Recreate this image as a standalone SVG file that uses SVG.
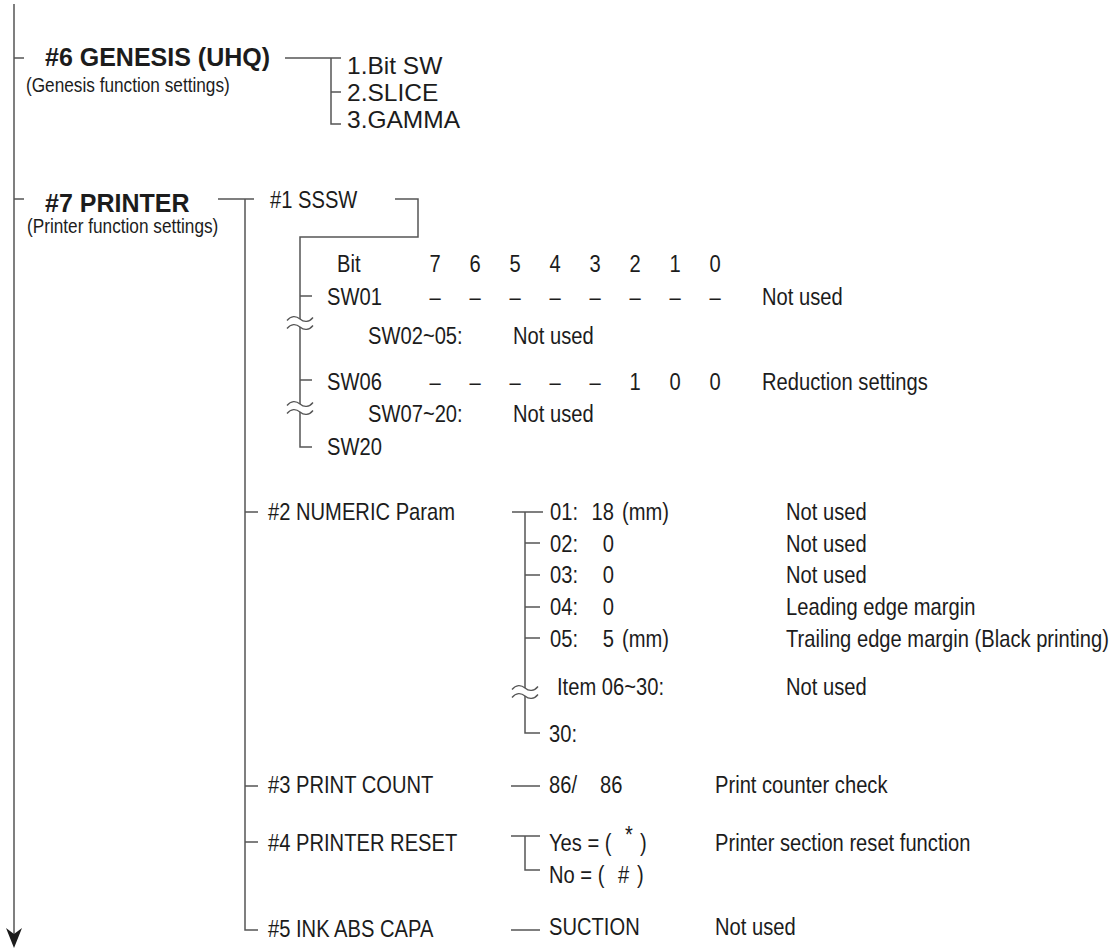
<svg xmlns="http://www.w3.org/2000/svg" width="1115" height="949" viewBox="0 0 1115 949">
<style>
text{font-family:"Liberation Sans",Arial,Helvetica,sans-serif;fill:#1c1c1c}
.t{font-size:24px}
.s{font-size:20.5px}
.b{font-size:25px;font-weight:bold}
.g{font-size:24.5px}
.m{text-anchor:middle}
.e{text-anchor:end}
.ln{stroke:#555;stroke-width:1.5;fill:none}
.wv{stroke:#555;stroke-width:1.3;fill:none}
</style>
<defs>
<path id="wave" d="M-13 1.5 C-9 -3.5 -4 -3.5 0 0 S9 3.5 13 -1.5"/>
</defs>
<rect width="1115" height="949" fill="#fff"/>
<g id="connectors">
<line class="ln" x1="14" y1="4" x2="14" y2="934"/>
<polygon points="6,928 14,934 22,928 14,948" fill="#1c1c1c"/>
<line class="ln" x1="14" y1="58" x2="24" y2="58"/>
<line class="ln" x1="14" y1="199" x2="24" y2="199"/>
<path class="ln" d="M285 58H341M331 58V124H341M331 92H341"/>
<path class="ln" d="M218 199H254M245 199V930H258M245 512H258M245 786H258M245 842H258"/>
<path class="ln" d="M395 199H418V237H300V319M300 327V404M300 412V447H312M300 296H312M300 380H312"/>
<g class="wv">
<use href="#wave" x="300" y="319"/>
<use href="#wave" x="300" y="327"/>
<use href="#wave" x="300" y="404"/>
<use href="#wave" x="300" y="412"/>
<use href="#wave" x="525" y="688"/>
<use href="#wave" x="525" y="696"/>
</g>
<path class="ln" d="M512 512H543M525 512V688M525 696V733H540M525 543H540M525 575H540M525 607H540M525 638H540"/>
<path class="ln" d="M511 786H540"/>
<path class="ln" d="M511 836H540M525 836V870H540"/>
<path class="ln" d="M511 930H540"/>
</g>
<g id="n-genesis">
<text class="b" x="45" y="66">#6 GENESIS (UHQ)</text>
<text class="s" transform="translate(26 92) scale(.84 1)">(Genesis function settings)</text>
</g>
<g id="n-bitsw"><text class="g" x="347" y="74">1.Bit SW</text></g>
<g id="n-slice"><text class="g" x="347" y="101">2.SLICE</text></g>
<g id="n-gamma"><text class="g" x="347" y="128">3.GAMMA</text></g>
<g id="n-printer">
<text class="b" x="45" y="212">#7 PRINTER</text>
<text class="s" transform="translate(27 233) scale(.84 1)">(Printer function settings)</text>
</g>
<g id="n-sssw"><text class="t" transform="translate(270 208) scale(.84 1)">#1 SSSW</text></g>
<g id="n-bitrow">
<text class="t" transform="translate(337 272) scale(.84 1)">Bit</text>
<text class="t m" transform="translate(435 272) scale(.84 1)">7</text>
<text class="t m" transform="translate(475 272) scale(.84 1)">6</text>
<text class="t m" transform="translate(515 272) scale(.84 1)">5</text>
<text class="t m" transform="translate(555 272) scale(.84 1)">4</text>
<text class="t m" transform="translate(595 272) scale(.84 1)">3</text>
<text class="t m" transform="translate(635 272) scale(.84 1)">2</text>
<text class="t m" transform="translate(675 272) scale(.84 1)">1</text>
<text class="t m" transform="translate(715 272) scale(.84 1)">0</text>
</g>
<g id="n-sw01">
<text class="t" transform="translate(327 305) scale(.84 1)">SW01</text>
<text class="t m" transform="translate(435 305) scale(.84 1)">–</text>
<text class="t m" transform="translate(475 305) scale(.84 1)">–</text>
<text class="t m" transform="translate(515 305) scale(.84 1)">–</text>
<text class="t m" transform="translate(555 305) scale(.84 1)">–</text>
<text class="t m" transform="translate(595 305) scale(.84 1)">–</text>
<text class="t m" transform="translate(635 305) scale(.84 1)">–</text>
<text class="t m" transform="translate(675 305) scale(.84 1)">–</text>
<text class="t m" transform="translate(715 305) scale(.84 1)">–</text>
<text class="t" transform="translate(762 305) scale(.84 1)">Not used</text>
</g>
<g id="n-sw0205">
<text class="t" transform="translate(368 344) scale(.84 1)">SW02~05:</text>
<text class="t" transform="translate(513 344) scale(.84 1)">Not used</text>
</g>
<g id="n-sw06">
<text class="t" transform="translate(327 390) scale(.84 1)">SW06</text>
<text class="t m" transform="translate(435 390) scale(.84 1)">–</text>
<text class="t m" transform="translate(475 390) scale(.84 1)">–</text>
<text class="t m" transform="translate(515 390) scale(.84 1)">–</text>
<text class="t m" transform="translate(555 390) scale(.84 1)">–</text>
<text class="t m" transform="translate(595 390) scale(.84 1)">–</text>
<text class="t m" transform="translate(635 390) scale(.84 1)">1</text>
<text class="t m" transform="translate(675 390) scale(.84 1)">0</text>
<text class="t m" transform="translate(715 390) scale(.84 1)">0</text>
<text class="t" transform="translate(762 390) scale(.84 1)">Reduction settings</text>
</g>
<g id="n-sw0720">
<text class="t" transform="translate(368 422) scale(.84 1)">SW07~20:</text>
<text class="t" transform="translate(513 422) scale(.84 1)">Not used</text>
</g>
<g id="n-sw20"><text class="t" transform="translate(327 455) scale(.84 1)">SW20</text></g>
<g id="n-numeric"><text class="t" transform="translate(268 520) scale(.84 1)">#2 NUMERIC Param</text></g>
<g id="n-p01">
<text class="t" transform="translate(550 520) scale(.84 1)">01:</text>
<text class="t e" transform="translate(614 520) scale(.84 1)">18</text>
<text class="t" transform="translate(622 520) scale(.84 1)">(mm)</text>
<text class="t" transform="translate(786 520) scale(.84 1)">Not used</text>
</g>
<g id="n-p02">
<text class="t" transform="translate(550 552) scale(.84 1)">02:</text>
<text class="t e" transform="translate(614 552) scale(.84 1)">0</text>
<text class="t" transform="translate(786 552) scale(.84 1)">Not used</text>
</g>
<g id="n-p03">
<text class="t" transform="translate(550 583) scale(.84 1)">03:</text>
<text class="t e" transform="translate(614 583) scale(.84 1)">0</text>
<text class="t" transform="translate(786 583) scale(.84 1)">Not used</text>
</g>
<g id="n-p04">
<text class="t" transform="translate(550 615) scale(.84 1)">04:</text>
<text class="t e" transform="translate(614 615) scale(.84 1)">0</text>
<text class="t" transform="translate(786 615) scale(.84 1)">Leading edge margin</text>
</g>
<g id="n-p05">
<text class="t" transform="translate(550 647) scale(.84 1)">05:</text>
<text class="t e" transform="translate(614 647) scale(.84 1)">5</text>
<text class="t" transform="translate(622 647) scale(.84 1)">(mm)</text>
<text class="t" transform="translate(786 647) scale(.84 1)">Trailing edge margin (Black printing)</text>
</g>
<g id="n-p0630">
<text class="t" transform="translate(557 695) scale(.84 1)">Item 06~30:</text>
<text class="t" transform="translate(786 695) scale(.84 1)">Not used</text>
</g>
<g id="n-p30"><text class="t" transform="translate(549 742) scale(.84 1)">30:</text></g>
<g id="n-printcount"><text class="t" transform="translate(268 793) scale(.84 1)">#3 PRINT COUNT</text></g>
<g id="n-count86">
<text class="t" transform="translate(549 793) scale(.84 1)">86/</text>
<text class="t" transform="translate(600 793) scale(.84 1)">86</text>
<text class="t" transform="translate(715 793) scale(.84 1)">Print counter check</text>
</g>
<g id="n-reset"><text class="t" transform="translate(268 851) scale(.84 1)">#4 PRINTER RESET</text></g>
<g id="n-yes">
<text class="t" transform="translate(549 851) scale(.84 1)">Yes = (</text>
<text class="t" transform="translate(625 843) scale(.84 1)">*</text>
<text class="t" transform="translate(640 851) scale(.84 1)">)</text>
<text class="t" transform="translate(715 851) scale(.84 1)">Printer section reset function</text>
</g>
<g id="n-no">
<text class="t" transform="translate(549 883) scale(.84 1)">No = (</text>
<text class="t" transform="translate(618 883) scale(.84 1)">#</text>
<text class="t" transform="translate(637 883) scale(.84 1)">)</text>
</g>
<g id="n-inkabs"><text class="t" transform="translate(268 937) scale(.84 1)">#5 INK ABS CAPA</text></g>
<g id="n-suction">
<text class="t" transform="translate(549 935) scale(.84 1)">SUCTION</text>
<text class="t" transform="translate(715 935) scale(.84 1)">Not used</text>
</g>
</svg>
